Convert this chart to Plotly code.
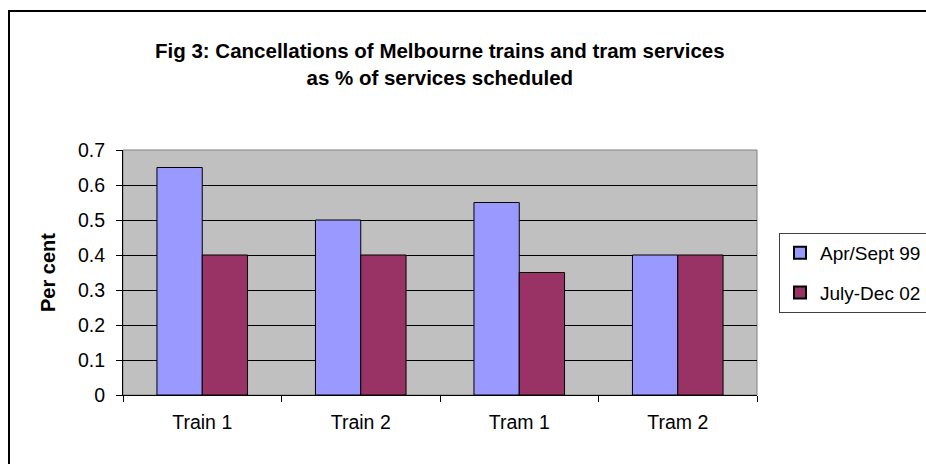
import plotly.graph_objects as go

categories = ["Train 1", "Train 2", "Tram 1", "Tram 2"]
series_names = ["Apr/Sept 99", "July-Dec 02"]
apr_sept_99 = [0.65, 0.50, 0.55, 0.40]
july_dec_02 = [0.40, 0.40, 0.35, 0.40]
y_ticks = [0, 0.1, 0.2, 0.3, 0.4, 0.5, 0.6, 0.7]
y_tick_labels = ["0", "0.1", "0.2", "0.3", "0.4", "0.5", "0.6", "0.7"]

W, H = 926, 464
L, R, T, B = 123, 757, 150, 395

def px(x):
    return (x - L) / (R - L)

def py(y):
    return (B - y) / (B - T)

font = "Liberation Sans, Arial, sans-serif"

fig = go.Figure()
fig.add_trace(go.Bar(x=categories, y=apr_sept_99, name=series_names[0], legendgroup="a",
                     marker=dict(color="#9999FF", line=dict(color="black", width=1))))
fig.add_trace(go.Bar(x=categories, y=july_dec_02, name=series_names[1], legendgroup="b",
                     marker=dict(color="#993366", line=dict(color="black", width=1))))

fig.update_layout(
    width=W, height=H,
    margin=dict(l=L, r=W - R, t=T, b=H - B, pad=0, autoexpand=False),
    paper_bgcolor="white",
    plot_bgcolor="#C0C0C0",
    barmode="group",
    bargap=1.5 / 3.5,
    bargroupgap=0,
    font=dict(family=font, size=19, color="black"),
    showlegend=True,
    legend=dict(
        x=px(779), y=py(233), xanchor="left", yanchor="top",
        bgcolor="white", bordercolor="#404040", borderwidth=1,
        font=dict(size=19), itemsizing="constant",
        itemwidth=30, tracegroupgap=12,
    ),
    xaxis=dict(
        type="category", showgrid=False, showline=True, linecolor="black", linewidth=1,
        ticks="outside", ticklen=6, tickcolor="black", tickson="boundaries",
        tickfont=dict(size=19.5), zeroline=False, ticklabelstandoff=10,
    ),
    yaxis=dict(
        range=[0, 0.7], tickvals=y_ticks, ticktext=y_tick_labels,
        showgrid=True, gridcolor="black", gridwidth=1,
        showline=True, linecolor="black", linewidth=1,
        ticks="outside", ticklen=6, tickcolor="black",
        tickfont=dict(size=19.5), zeroline=False, ticklabelstandoff=7,
        title=dict(text="<b>Per cent</b>", font=dict(size=20), standoff=16),
    ),
)

# plot area border
fig.add_shape(type="rect", xref="paper", yref="paper", x0=0, y0=0, x1=1, y1=1,
              line=dict(color="#808080", width=1), layer="below")
# outer chart border
fig.add_shape(type="rect", xref="paper", yref="paper",
              x0=px(9), y0=py(475), x1=px(940), y1=py(11),
              line=dict(color="black", width=2))

fig.add_annotation(
    text="<b>Fig 3: Cancellations of Melbourne trains and tram services<br>as % of services scheduled</b>",
    xref="paper", yref="paper", x=px(440), y=py(64), xanchor="center", yanchor="middle",
    showarrow=False, font=dict(size=20.5, family=font), align="center",
)

fig.write_html("out.html",
               config={"displayModeBar": False, "responsive": False},
               post_script="document.body.style.margin='0';document.body.style.overflow='hidden';")
